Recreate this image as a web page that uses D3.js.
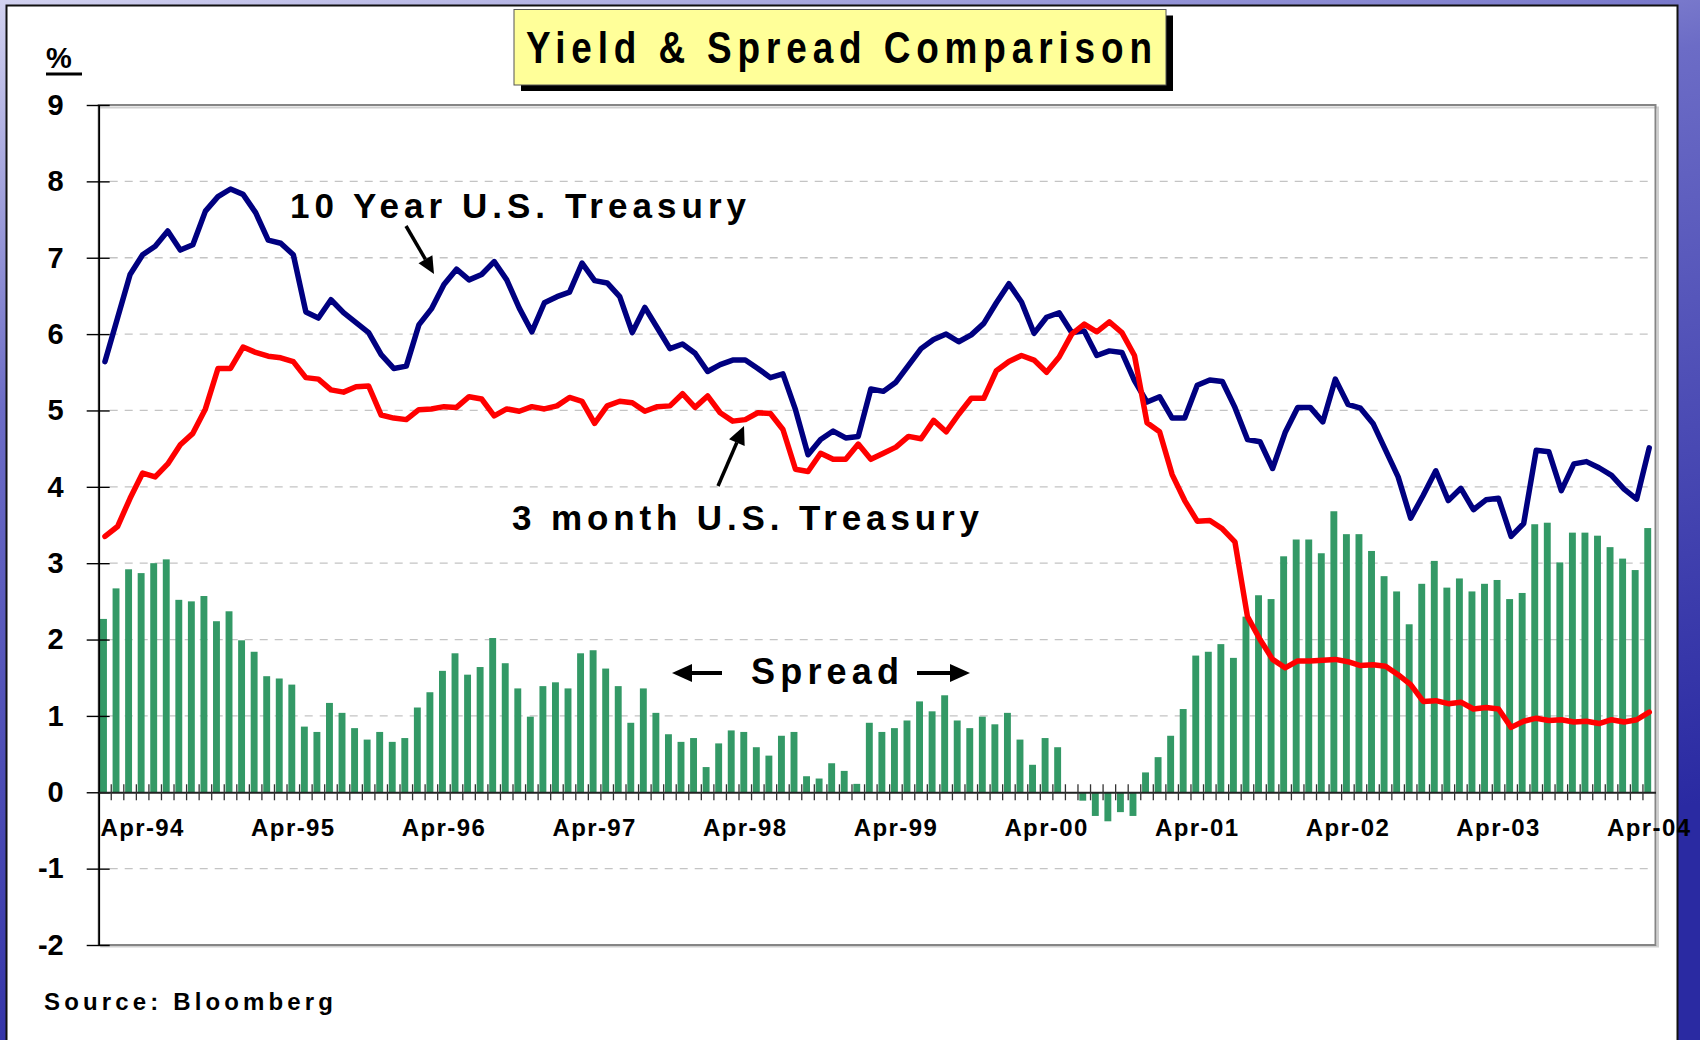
<!DOCTYPE html>
<html>
<head>
<meta charset="utf-8">
<script src="https://cdn.jsdelivr.net/npm/d3@7"></script>
<style>
  body { margin: 0; background: #fff; }
  svg { display: block; }
  text { font-family: "Liberation Sans", Arial, sans-serif; font-weight: bold; }
</style>
</head>
<body>
<div id="chart"></div>
<script>
// monthly data, Jan-94 .. Apr-04
const tenYear = [
  5.64, 6.21, 6.78, 7.04, 7.15, 7.35, 7.10, 7.17, 7.61, 7.80, 7.90, 7.83,
  7.59, 7.23, 7.19, 7.04, 6.29, 6.21, 6.45, 6.28, 6.15, 6.02, 5.73, 5.55,
  5.58, 6.12, 6.33, 6.65, 6.85, 6.71, 6.78, 6.95, 6.71, 6.34, 6.03, 6.41,
  6.49, 6.55, 6.93, 6.70, 6.67, 6.49, 6.02, 6.35, 6.08, 5.81, 5.87, 5.75,
  5.51, 5.60, 5.66, 5.66, 5.55, 5.43, 5.48, 5.01, 4.42, 4.62, 4.73, 4.64,
  4.66, 5.28, 5.25, 5.37, 5.59, 5.81, 5.93, 6.00, 5.90, 5.99, 6.14, 6.41,
  6.66, 6.42, 6.01, 6.22, 6.28, 6.02, 6.04, 5.72, 5.78, 5.76, 5.39, 5.11,
  5.18, 4.90, 4.90, 5.33, 5.40, 5.38, 5.04, 4.62, 4.59, 4.24, 4.71, 5.04,
  5.04, 4.85, 5.41, 5.08, 5.03, 4.83, 4.48, 4.13, 3.59, 3.89, 4.21, 3.82,
  3.98, 3.70, 3.83, 3.85, 3.35, 3.52, 4.48, 4.46, 3.95, 4.30, 4.33, 4.25,
  4.15, 3.97, 3.84, 4.51
];
const threeMonth = [
  3.35, 3.48, 3.85, 4.18, 4.13, 4.30, 4.55, 4.70, 5.02, 5.55, 5.55, 5.83,
  5.76, 5.71, 5.69, 5.64, 5.43, 5.41, 5.27, 5.24, 5.31, 5.32, 4.94, 4.90,
  4.88, 5.01, 5.02, 5.05, 5.04, 5.18, 5.15, 4.93, 5.02, 4.99, 5.05, 5.02,
  5.06, 5.17, 5.12, 4.83, 5.06, 5.12, 5.10, 4.99, 5.05, 5.06, 5.22, 5.04,
  5.19, 4.97, 4.86, 4.88, 4.97, 4.96, 4.75, 4.23, 4.20, 4.44, 4.36, 4.36,
  4.56, 4.36, 4.44, 4.52, 4.66, 4.63, 4.87, 4.72, 4.95, 5.16, 5.16, 5.52,
  5.64, 5.72, 5.66, 5.50, 5.70, 6.00, 6.13, 6.03, 6.16, 6.02, 5.72, 4.84,
  4.72, 4.16, 3.82, 3.55, 3.56, 3.45, 3.28, 2.30, 2.00, 1.74, 1.63, 1.72,
  1.72, 1.73, 1.74, 1.71, 1.66, 1.67, 1.65, 1.54, 1.41, 1.19, 1.20, 1.16,
  1.18, 1.09, 1.11, 1.09, 0.85, 0.93, 0.97, 0.94, 0.95, 0.92, 0.93, 0.90,
  0.95, 0.92, 0.95, 1.05
];
const spread = [
  2.27, 2.67, 2.92, 2.87, 3.00, 3.05, 2.52, 2.50, 2.57, 2.24, 2.37, 1.99,
  1.84, 1.52, 1.49, 1.41, 0.86, 0.79, 1.17, 1.04, 0.84, 0.69, 0.79, 0.66,
  0.71, 1.11, 1.31, 1.59, 1.82, 1.54, 1.64, 2.02, 1.69, 1.36, 0.99, 1.39,
  1.44, 1.36, 1.82, 1.86, 1.62, 1.39, 0.91, 1.36, 1.04, 0.76, 0.66, 0.71,
  0.33, 0.64, 0.81, 0.79, 0.59, 0.48, 0.74, 0.79, 0.21, 0.18, 0.38, 0.28,
  0.11, 0.91, 0.79, 0.84, 0.94, 1.19, 1.06, 1.27, 0.94, 0.84, 0.99, 0.89,
  1.04, 0.69, 0.36, 0.71, 0.59, 0.00, -0.11, -0.31, -0.38, -0.26, -0.31, 0.26,
  0.46, 0.74, 1.09, 1.79, 1.84, 1.94, 1.76, 2.30, 2.58, 2.53, 3.09, 3.31,
  3.31, 3.13, 3.68, 3.38, 3.38, 3.16, 2.83, 2.63, 2.20, 2.73, 3.03, 2.68,
  2.80, 2.63, 2.73, 2.78, 2.53, 2.61, 3.51, 3.53, 3.01, 3.40, 3.40, 3.36,
  3.21, 3.06, 2.91, 3.46
];
const months = d3.timeMonth.range(new Date(1994, 0, 1), new Date(2004, 4, 1));
const tickLabels = ["Apr-94", "Apr-95", "Apr-96", "Apr-97", "Apr-98", "Apr-99",
                    "Apr-00", "Apr-01", "Apr-02", "Apr-03", "Apr-04"];
const yTicks = [9, 8, 7, 6, 5, 4, 3, 2, 1, 0, -1, -2];

const W = 1700, H = 1040;
const plot = { left: 98.7, right: 1655.5, top: 105, bottom: 945 };

const svg = d3.select("#chart").append("svg").attr("width", W).attr("height", H);

// slide background
const defs = svg.append("defs");
const bg = defs.append("linearGradient").attr("id", "bg")
  .attr("x1", 0).attr("y1", 0).attr("x2", 0.35).attr("y2", 1);
bg.append("stop").attr("offset", 0).attr("stop-color", "#d2d2f0");
bg.append("stop").attr("offset", 0.35).attr("stop-color", "#6c6cc6");
bg.append("stop").attr("offset", 1).attr("stop-color", "#2a2aa2");
svg.append("rect").attr("width", W).attr("height", H).attr("fill", "url(#bg)");

// white panel
svg.append("rect")
  .attr("x", 6.5).attr("y", 5.5).attr("width", 1671).attr("height", 1050)
  .attr("fill", "#fff").attr("stroke", "#111").attr("stroke-width", 2);

// title box
svg.append("rect").attr("x", 521).attr("y", 15.5).attr("width", 652).attr("height", 75.5).attr("fill", "#000");
svg.append("rect").attr("x", 514).attr("y", 9.5).attr("width", 652).attr("height", 75.5)
  .attr("fill", "#ffff99").attr("stroke", "#555").attr("stroke-width", 1);
// narrow glyphs, wide spacing
svg.append("text")
  .attr("transform", "translate(526,63) scale(0.84,1)")
  .attr("font-size", 44).attr("textLength", 626 / 0.84).attr("lengthAdjust", "spacing")
  .text("Yield & Spread Comparison");

// "%" unit
svg.append("text").attr("x", 46).attr("y", 68).attr("font-size", 29).text("%");
svg.append("rect").attr("x", 46).attr("y", 72.5).attr("width", 36).attr("height", 3).attr("fill", "#000");

// scales
const x = d3.scaleBand().domain(months).range([plot.left, plot.right]);
const bw = x.bandwidth();
const cx = i => x(months[i]) + bw / 2;
const y = d3.scaleLinear().domain([-2, 9]).range([plot.bottom, plot.top]);

// plot frame
svg.append("path")
  .attr("d", `M${plot.left},${plot.top + 1}H${plot.right + 1}V${plot.bottom}H${plot.left}`)
  .attr("fill", "none").attr("stroke", "#d0d0d0").attr("stroke-width", 2)
  .attr("transform", "translate(1.5,1.5)");
svg.append("rect")
  .attr("x", plot.left).attr("y", plot.top)
  .attr("width", plot.right - plot.left).attr("height", plot.bottom - plot.top)
  .attr("fill", "none").attr("stroke", "#858585").attr("stroke-width", 2);

// dashed grid
svg.append("g").selectAll("line")
  .data(yTicks.filter(v => v !== 9 && v !== 0 && v !== -2))
  .join("line")
  .attr("x1", plot.left + 11).attr("x2", plot.right - 1)
  .attr("y1", d => y(d)).attr("y2", d => y(d))
  .attr("stroke", "#c4c4c4").attr("stroke-width", 1.3).attr("stroke-dasharray", "8,7");

// spread bars
const barW = bw * 0.55;
svg.append("g").selectAll("rect")
  .data(spread)
  .join("rect")
  .attr("x", (d, i) => cx(i) - barW / 2 - 1.5)
  .attr("width", barW)
  .attr("y", d => Math.min(y(d), y(0)))
  .attr("height", d => Math.abs(y(d) - y(0)))
  .attr("fill", "#339966");

// y axis
const yAxis = svg.append("g")
  .attr("transform", `translate(${plot.left},0)`)
  .call(d3.axisLeft(y).tickValues(yTicks).tickFormat(d => String(d))
    .tickSizeInner(12).tickSizeOuter(0).tickPadding(23));
yAxis.select(".domain").attr("stroke", "#000").attr("stroke-width", 1.8);
yAxis.selectAll(".tick line").attr("x1", 11).attr("x2", -12)
  .attr("stroke", "#000").attr("stroke-width", 1.4);
yAxis.selectAll(".tick text")
  .attr("font-size", 29).attr("font-family", "Liberation Sans, Arial, sans-serif")
  .attr("font-weight", "bold").attr("fill", "#000");

// x axis on zero line
const tickMonths = months.filter(d => d.getMonth() === 3);
const xAxis = svg.append("g")
  .attr("transform", `translate(0,${y(0)})`)
  .call(d3.axisBottom(x).tickValues(tickMonths).tickFormat((d, i) => tickLabels[i])
    .tickSize(0).tickPadding(26.5));
xAxis.select(".domain").attr("stroke", "#222").attr("stroke-width", 2.2);
xAxis.selectAll(".tick text")
  .attr("font-size", 24).attr("font-family", "Liberation Sans, Arial, sans-serif")
  .attr("font-weight", "bold").attr("fill", "#000").attr("letter-spacing", "1.4px");

// monthly tick marks
svg.append("g").selectAll("line")
  .data(months.slice(1))
  .join("line")
  .attr("x1", d => x(d)).attr("x2", d => x(d))
  .attr("y1", y(0) - 8).attr("y2", y(0) + 8)
  .attr("stroke", "#333").attr("stroke-width", 1.3);

// lines
const line = d3.line().x((d, i) => cx(i)).y(d => y(d));
svg.append("path").datum(tenYear).attr("d", line)
  .attr("fill", "none").attr("stroke", "#000080").attr("stroke-width", 5.5)
  .attr("stroke-linejoin", "round").attr("stroke-linecap", "round");
svg.append("path").datum(threeMonth).attr("d", line)
  .attr("fill", "none").attr("stroke", "#ff0000").attr("stroke-width", 5.5)
  .attr("stroke-linejoin", "round").attr("stroke-linecap", "round");

// annotations
function arrow(x1, y1, x2, y2, len, half, sw) {
  const a = Math.atan2(y2 - y1, x2 - x1);
  const bx = x2 - len * Math.cos(a), by = y2 - len * Math.sin(a);
  svg.append("line").attr("x1", x1).attr("y1", y1).attr("x2", bx).attr("y2", by)
    .attr("stroke", "#000").attr("stroke-width", sw);
  const px = -Math.sin(a) * half, py = Math.cos(a) * half;
  svg.append("polygon")
    .attr("points", [[x2, y2], [bx + px, by + py], [bx - px, by - py]].map(p => p.join(",")).join(" "))
    .attr("fill", "#000");
}

svg.append("text").attr("x", 290).attr("y", 218).attr("font-size", 35)
  .attr("textLength", 456).attr("lengthAdjust", "spacing").text("10 Year U.S. Treasury");
arrow(406, 226, 434, 274, 17, 8, 3.5);

svg.append("text").attr("x", 512).attr("y", 530).attr("font-size", 35)
  .attr("textLength", 467).attr("lengthAdjust", "spacing").text("3 month U.S. Treasury");
arrow(718, 486, 744, 426, 18, 8.5, 3.5);

svg.append("text").attr("x", 751).attr("y", 684).attr("font-size", 36)
  .attr("textLength", 148).attr("lengthAdjust", "spacing").text("Spread");
arrow(722, 673, 672, 673, 20, 9, 4);
arrow(917, 673, 970, 673, 20, 9, 4);

// source
svg.append("text").attr("x", 44).attr("y", 1010).attr("font-size", 24)
  .attr("textLength", 289).attr("lengthAdjust", "spacing").text("Source:  Bloomberg");
</script>
</body>
</html>
